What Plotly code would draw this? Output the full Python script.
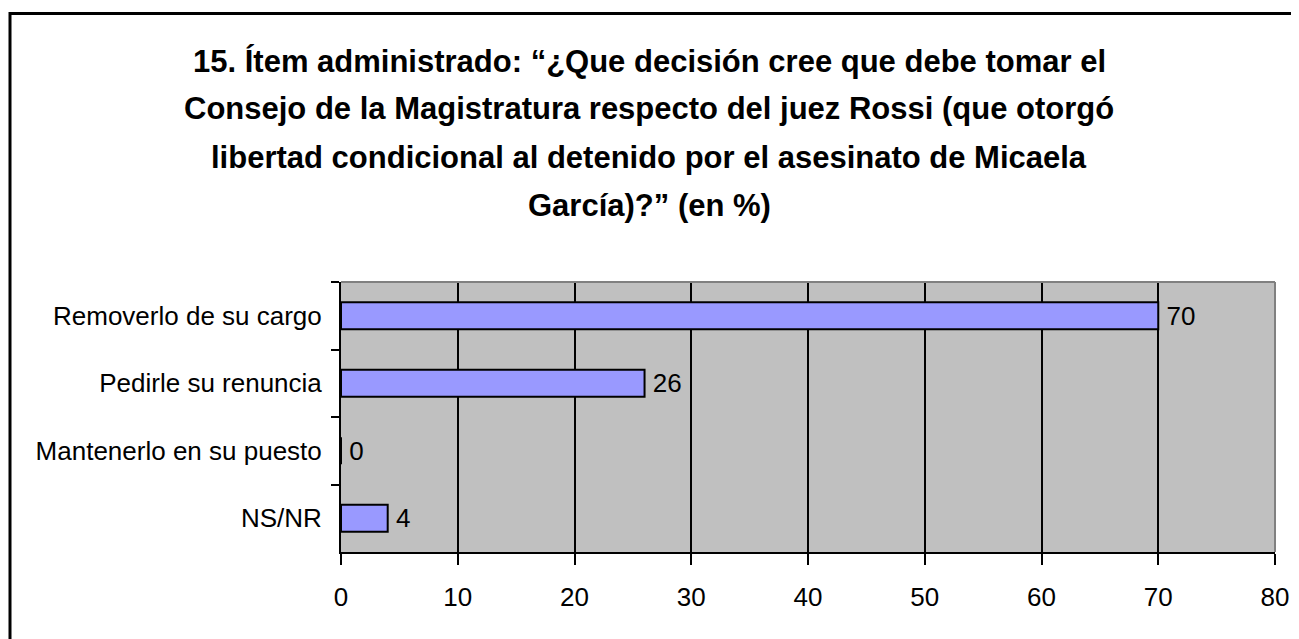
import plotly.graph_objects as go

categories = ["Removerlo de su cargo", "Pedirle su renuncia", "Mantenerlo en su puesto", "NS/NR"]
values = [70, 26, 0, 4]
x_ticks = [0, 10, 20, 30, 40, 50, 60, 70, 80]

title_lines = [
    "15. Ítem administrado: “¿Que decisión cree que debe tomar el",
    "Consejo de la Magistratura respecto del juez Rossi (que otorgó",
    "libertad condicional al detenido por el asesinato de Micaela",
    "García)?” (en %)",
]
title_centers_px = [61, 109, 157, 205]  # screenshot px (vertical centres of lines)

FONT = "Liberation Sans, Arial, sans-serif"

OFF = 8  # page body margin
W, H = 1291, 631
# screenshot pixel positions of plot area
PX_L, PX_R, PX_T, PX_B = 341, 1275, 282, 552
L, T = PX_L - OFF, PX_T - OFF
R = W - (PX_R - OFF)
B = H - (PX_B - OFF)
pw, ph = W - L - R, H - T - B


def px_x(px):
    return (px - PX_L) / pw


def px_y(py):
    return (PX_B - py) / ph


fig = go.Figure()
fig.add_trace(go.Bar(
    y=categories, x=values, orientation="h",
    marker=dict(color="#9999FF", line=dict(color="black", width=2)),
    text=["\u2009" + str(v) for v in values], textposition="outside",
    constraintext="none",
    textfont=dict(family=FONT, size=26, color="black"),
    cliponaxis=False,
))

annotations = [
    dict(text=line, xref="paper", yref="paper", x=px_x(649), y=px_y(cy),
         xanchor="center", yanchor="middle", showarrow=False,
         font=dict(family=FONT, size=31, color="black", weight="bold"))
    for line, cy in zip(title_lines, title_centers_px)
]

fig.update_layout(
    width=W, height=H,
    margin=dict(l=L, r=R, t=T, b=B, autoexpand=False),
    paper_bgcolor="white", plot_bgcolor="#C0C0C0",
    showlegend=False, bargap=0.6,
    annotations=annotations,
    xaxis=dict(
        range=[0, 80], tickvals=x_ticks, ticktext=[str(t) for t in x_ticks],
        showgrid=True, gridcolor="black", gridwidth=2,
        showline=True, linecolor="black", linewidth=2,
        ticks="outside", ticklen=11, tickwidth=2, tickcolor="black",
        tickfont=dict(family=FONT, size=26, color="black"),
        zeroline=False, ticklabelstandoff=10,
    ),
    yaxis=dict(
        categoryorder="array", categoryarray=categories, autorange="reversed",
        showgrid=False, showline=True, linecolor="black", linewidth=2,
        ticks="outside", ticklen=8, tickwidth=2, tickcolor="black",
        tickson="boundaries",
        tickfont=dict(family=FONT, size=26, color="black"),
        ticklabelstandoff=12,
    ),
    font=dict(family=FONT, color="black"),
    shapes=[
        dict(type="line", xref="paper", yref="paper", x0=0, x1=1, y0=1, y1=1,
             line=dict(color="#808080", width=2)),
        dict(type="line", xref="paper", yref="paper", x0=1, x1=1, y0=0, y1=1,
             line=dict(color="#808080", width=2)),
        dict(type="rect", xref="paper", yref="paper",
             x0=px_x(10), x1=px_x(1330), y0=px_y(13.5), y1=px_y(670),
             line=dict(color="black", width=3), fillcolor="rgba(0,0,0,0)"),
    ],
)

fig.write_html("out.html")
